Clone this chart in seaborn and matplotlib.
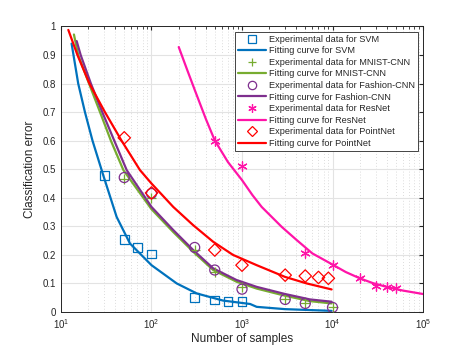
import numpy as np
import pandas as pd
import seaborn as sns
import matplotlib.pyplot as plt
from matplotlib.lines import Line2D
from matplotlib.ticker import LogLocator, NullFormatter, MultipleLocator, FuncFormatter

# experimental points
svm_x = [30, 50, 70, 100, 300, 500, 700, 1000]
svm_y = [0.479, 0.254, 0.225, 0.203, 0.051, 0.042, 0.038, 0.036]
mnist_x = [50, 100, 300, 500, 1000, 3000, 5000, 10000]
mnist_y = [0.465, 0.400, 0.217, 0.141, 0.086, 0.044, 0.030, 0.016]
fashion_x = [50, 100, 300, 500, 1000, 3000, 5000, 10000]
fashion_y = [0.471, 0.415, 0.226, 0.147, 0.080, 0.044, 0.030, 0.016]
resnet_x = [500, 1000, 5000, 10000, 20000, 30000, 40000, 50000]
resnet_y = [0.599, 0.510, 0.205, 0.163, 0.118, 0.092, 0.088, 0.083]
point_x = [50, 100, 500, 1000, 3000, 5000, 7000, 9000]
point_y = [0.610, 0.417, 0.217, 0.164, 0.129, 0.126, 0.121, 0.118]

# fitting curves
svm_fx = [13.1, 15.5, 18.4, 22.3, 29.3, 41.2, 57.8, 100, 190, 316, 617, 1230, 1453, 2985, 9770]
svm_fy = [0.94, 0.80, 0.70, 0.60, 0.479, 0.333, 0.240, 0.164, 0.100, 0.065, 0.040, 0.028, 0.018, 0.010, 0.004]
mnist_fx = [13.9, 15.5, 20.4, 27, 35.6, 48.9, 100, 174, 289, 480, 870, 1453, 2985, 5640, 9770]
mnist_fy = [0.972, 0.90, 0.80, 0.70, 0.60, 0.497, 0.360, 0.280, 0.211, 0.147, 0.106, 0.082, 0.057, 0.038, 0.030]
fashion_fx = [14.9, 16.5, 21.4, 28.6, 38.8, 53.2, 100, 174, 289, 480, 870, 1453, 2985, 5640, 9770]
fashion_fy = [0.949, 0.90, 0.80, 0.70, 0.60, 0.497, 0.368, 0.287, 0.217, 0.153, 0.112, 0.088, 0.063, 0.044, 0.036]
resnet_fx = [200, 250, 302, 400, 500, 700, 1000, 1300, 1650, 2750, 4020, 6000, 9770, 14000,
             20000, 28000, 39600, 60000, 100000]
resnet_fy = [0.928, 0.845, 0.776, 0.675, 0.601, 0.525, 0.462, 0.410, 0.368, 0.298, 0.252,
             0.205, 0.168, 0.140, 0.118, 0.101, 0.088, 0.075, 0.063]
point_fx = [12.05, 15.2, 20.6, 30.6, 46.7, 74.6, 100, 174, 289, 480, 795, 1453, 2985, 5190, 9770]
point_fy = [0.988, 0.90, 0.80, 0.70, 0.60, 0.497, 0.450, 0.368, 0.304, 0.246, 0.200, 0.164, 0.123, 0.100, 0.079]

sns.set_style("white")
plt.rcParams['font.family'] = ['Liberation Sans', 'DejaVu Sans']

fig = plt.figure(figsize=(4.67, 3.5), dpi=100)
ax = fig.add_axes([0.1306, 0.1086, 0.7752, 0.8157])

series = [
    ("SVM", svm_x, svm_y, svm_fx, svm_fy, "#0072BD", "s", 40),
    ("MNIST-CNN", mnist_x, mnist_y, mnist_fx, mnist_fy, "#77AC30", "+", 50),
    ("Fashion-CNN", fashion_x, fashion_y, fashion_fx, fashion_fy, "#7E2F8E", "o", 52),
    ("ResNet", resnet_x, resnet_y, resnet_fx, resnet_fy, "#FF14A8", (6, 2, 0), 45),
    ("PointNet", point_x, point_y, point_fx, point_fy, "#FF0000", "D", 40),
]

handles, labels = [], []
for name, px, py, fx, fy, col, mk, sz in series:
    pts = pd.DataFrame({"x": px, "y": py})
    fit = pd.DataFrame({"x": fx, "y": fy})
    sns.lineplot(data=fit, x="x", y="y", ax=ax, color=col, lw=1.6, sort=False, zorder=3)
    if mk in ("+", (6, 2, 0)):
        sns.scatterplot(data=pts, x="x", y="y", ax=ax, marker=mk, s=sz, color=col,
                        linewidth=0.9, zorder=4)
    else:
        sns.scatterplot(data=pts, x="x", y="y", ax=ax, marker=mk, s=sz, facecolor="none",
                        edgecolor=col, linewidth=0.9, zorder=4)
    mkh = Line2D([], [], ls="none", marker=mk, color=col, mfc="none", mew=0.9,
                 ms=6 if mk != "D" else 5)
    lnh = Line2D([], [], color=col, lw=1.6)
    handles += [mkh, lnh]
    labels += [f"Experimental data for {name}", f"Fitting curve for {name}"]

ax.set_xscale("log")
ax.set_xlim(10, 1e5)
ax.set_ylim(0, 1)
ax.yaxis.set_major_locator(MultipleLocator(0.1))
ax.yaxis.set_major_formatter(FuncFormatter(lambda v, p: f"{round(v, 1):g}"))
ax.xaxis.set_major_locator(LogLocator(base=10, numticks=10))
ax.xaxis.set_minor_locator(LogLocator(base=10, subs=np.arange(2, 10), numticks=20))
ax.xaxis.set_minor_formatter(NullFormatter())

ax.grid(True, which="major", color="#e3e3e3", lw=0.8)
ax.grid(True, which="minor", axis="x", color="#d0d0d0", lw=0.6, ls=(0, (1, 2.5)))
ax.set_axisbelow(True)
for s in ax.spines.values():
    s.set_color("#262626")
    s.set_linewidth(0.7)
ax.tick_params(which="both", direction="in", top=True, right=True, labelsize=7,
               colors="#262626", length=3)
ax.tick_params(which="minor", length=1.8)

ax.set_xlabel("Number of samples", fontsize=8.5, color="#262626", labelpad=2)
ax.set_ylabel("Classification error", fontsize=8.5, color="#262626", labelpad=5)

leg = ax.legend(handles, labels, loc="upper right", fontsize=6.6, frameon=True,
                fancybox=False, edgecolor="#262626", framealpha=1,
                labelspacing=0.28, handlelength=3.0, handletextpad=0.35,
                borderpad=0.3, borderaxespad=0.6)
leg.get_frame().set_linewidth(0.6)

fig.savefig("out.png", dpi=100)
